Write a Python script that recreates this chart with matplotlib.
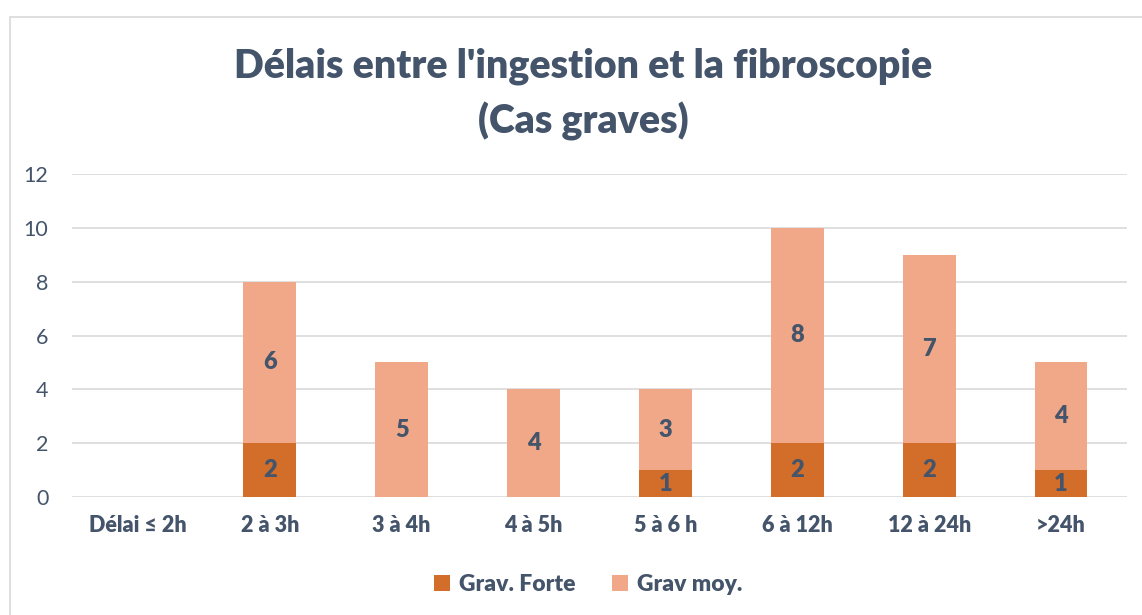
import matplotlib.pyplot as plt
import matplotlib.patches as mpatches
import numpy as np

plt.rcParams['font.family'] = ['Lato', 'DejaVu Sans']

# donnees
categories = ['Délai ≤ 2h', '2 à 3h', '3 à 4h', '4 à 5h', '5 à 6 h', '6 à 12h', '12 à 24h', '>24h']
grav_forte = [0, 2, 0, 0, 1, 2, 2, 1]
grav_moy = [0, 6, 5, 4, 3, 8, 7, 4]

col_forte = '#D26E2A'
col_moy = '#F0A889'
col_txt = '#44546A'

fig = plt.figure(figsize=(11.42, 6.15), dpi=100)
ax = fig.add_axes([72 / 1142, 118 / 615, 1055 / 1142, 323 / 615])

# cadre du graphique
fig.patches.append(mpatches.Rectangle((10 / 1142, -0.01), 1.1, (615 - 17) / 615 + 0.01,
                                      transform=fig.transFigure, fill=False,
                                      edgecolor='#D9D9D9', linewidth=1.2))

x = np.arange(len(categories))
w = 0.40
b1 = ax.bar(x, grav_forte, w, color=col_forte, label='Grav. Forte', zorder=3)
b2 = ax.bar(x, grav_moy, w, bottom=grav_forte, color=col_moy, label='Grav moy.', zorder=3)

for i in range(len(x)):
    if grav_forte[i] > 0:
        ax.text(x[i], grav_forte[i] / 2, str(grav_forte[i]), ha='center', va='center',
                fontsize=17, fontweight='heavy', color=col_txt, zorder=4)
    if grav_moy[i] > 0:
        ax.text(x[i], grav_forte[i] + grav_moy[i] / 2, str(grav_moy[i]), ha='center', va='center',
                fontsize=17, fontweight='heavy', color=col_txt, zorder=4)

ax.set_xlim(-0.5, len(categories) - 0.5)
ax.set_ylim(0, 12)
ax.set_yticks(range(0, 13, 2))
ax.yaxis.grid(True, color='#D9D9D9', linewidth=1.2, zorder=0)
ax.set_axisbelow(True)
for s in ax.spines.values():
    s.set_visible(False)
ax.tick_params(axis='both', length=0)
ax.tick_params(axis='y', labelsize=15.5, labelcolor=col_txt, pad=17)
ax.set_xticks(x)
ax.set_xticklabels(categories, fontsize=15.5, fontweight='heavy', color=col_txt)
ax.tick_params(axis='x', pad=13)

fig.text(0.511, 0.892, "Délais entre l'ingestion et la fibroscopie", ha='center', va='center',
         fontsize=28.3, fontweight='heavy', color=col_txt)
fig.text(0.511, 0.803, "(Cas graves)", ha='center', va='center',
         fontsize=28.3, fontweight='heavy', color=col_txt)

fig.legend(handles=[b1, b2], loc='center', bbox_to_anchor=(0.515, 0.05), ncol=2,
           frameon=False, prop={'size': 16.5, 'weight': 'heavy'}, labelcolor=col_txt,
           handlelength=0.7, handleheight=0.7, handletextpad=0.4, columnspacing=1.6)

fig.savefig('out.png', dpi=100)
